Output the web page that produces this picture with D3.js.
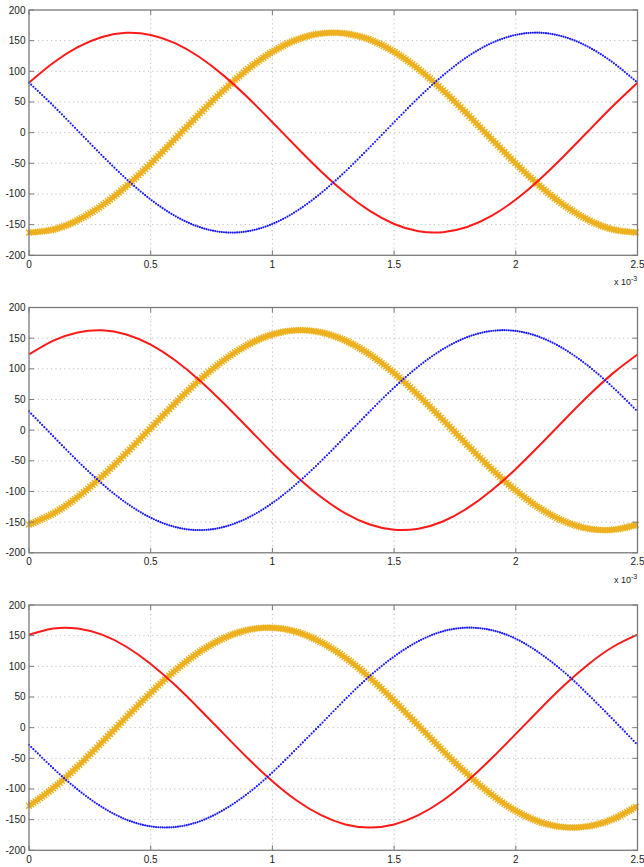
<!DOCTYPE html>
<html>
<head>
<meta charset="utf-8">
<script src="https://cdn.jsdelivr.net/npm/d3@7"></script>
<style>
  body { margin: 0; background: #fff; }
  text { font-family: "Liberation Sans", Arial, sans-serif; }
</style>
</head>
<body>
<svg id="chart" width="644" height="867"></svg>
<script>
// Time axis in milliseconds (axis shows x 10^-3 s)
const timeMs = [0, 0.1, 0.2, 0.3, 0.4, 0.5, 0.6, 0.7, 0.8, 0.9, 1.0, 1.1, 1.2,
                1.3, 1.4, 1.5, 1.6, 1.7, 1.8, 1.9, 2.0, 2.1, 2.2, 2.3, 2.4, 2.5];
const xTicks = [0, 0.5, 1, 1.5, 2, 2.5];
const xTickLabels = ["0", "0.5", "1", "1.5", "2", "2.5"];
const yTicks = [-200, -150, -100, -50, 0, 50, 100, 150, 200];

// Phase voltages, panel 1
const red1 = [81.5, 114.0, 139.4, 156.0, 162.9, 159.4, 146.0, 123.4, 93.0, 56.8, 17.0, -23.8, -63.2,
              -98.5, -127.7, -148.9, -160.7, -162.4, -153.9, -135.8, -109.1, -75.5, -37.2, 3.4, 43.8, 81.5];
const blue1 = [81.5, 43.8, 3.4, -37.2, -75.5, -109.1, -135.8, -153.9, -162.4, -160.7, -148.9, -127.7, -98.5,
               -63.2, -23.8, 17.0, 56.8, 93.0, 123.4, 146.0, 159.4, 162.9, 156.0, 139.4, 114.0, 81.5];
const orange1 = [-163.0, -157.9, -142.8, -118.8, -87.3, -50.4, -10.2, 30.5, 69.4, 103.9, 131.9, 151.6, 161.7,
                 161.7, 151.6, 131.9, 103.9, 69.4, 30.5, -10.2, -50.4, -87.3, -118.8, -142.8, -157.9, -163.0];

// Panel 2
const red2 = [123.4, 146.0, 159.4, 162.9, 156.0, 139.4, 114.0, 81.5, 43.8, 3.4, -37.2, -75.5, -109.1,
              -135.8, -153.9, -162.4, -160.7, -148.9, -127.7, -98.5, -63.2, -23.8, 17.0, 56.8, 93.0, 123.4];
const blue2 = [30.5, -10.2, -50.4, -87.3, -118.8, -142.8, -157.9, -163.0, -157.9, -142.8, -118.8, -87.3, -50.4,
               -10.2, 30.5, 69.4, 103.9, 131.9, 151.6, 161.7, 161.7, 151.6, 131.9, 103.9, 69.4, 30.5];
const orange2 = [-153.9, -135.8, -109.1, -75.5, -37.2, 3.4, 43.8, 81.5, 114.0, 139.4, 156.0, 162.9, 159.4,
                 146.0, 123.4, 93.0, 56.8, 17.0, -23.8, -63.2, -98.5, -127.7, -148.9, -160.7, -162.4, -153.9];

// Panel 3
const red3 = [151.6, 161.7, 161.7, 151.6, 131.9, 103.9, 69.4, 30.5, -10.2, -50.4, -87.3, -118.8, -142.8,
              -157.9, -163.0, -157.9, -142.8, -118.8, -87.3, -50.4, -10.2, 30.5, 69.4, 103.9, 131.9, 151.6];
const blue3 = [-28.0, -66.5, -101.0, -129.5, -150.0, -161.0, -162.0, -153.0, -134.0, -107.0, -73.0, -34.0, 6.0,
               46.5, 84.0, 116.0, 141.0, 157.0, 163.0, 159.0, 145.0, 121.0, 90.0, 53.0, 13.0, -28.0];
const orange3 = [-127.7, -98.5, -63.2, -23.8, 17.0, 56.8, 93.0, 123.4, 146.0, 159.4, 162.9, 156.0, 139.4,
                 114.0, 81.5, 43.8, 3.4, -37.2, -75.5, -109.1, -135.8, -153.9, -162.4, -160.7, -148.9, -127.7];

const panels = [
  { red: red1, blue: blue1, orange: orange1, top: 10,    exponent: true },
  { red: red2, blue: blue2, orange: orange2, top: 307.5, exponent: true },
  { red: red3, blue: blue3, orange: orange3, top: 605,   exponent: false }
];

const svg = d3.select("#chart");
const plotLeft = 29, plotRight = 637.5, plotH = 245.3;
const markerStepMs = 0.009;   // marker spacing along time
const x = d3.scaleLinear().domain([0, 2.5]).range([plotLeft, plotRight]);

// Sample a drawn path at evenly spaced x positions
function sampleByX(pathNode, xs) {
  const total = pathNode.getTotalLength();
  const pts = [];
  for (let l = 0; l <= total; l += 0.5) pts.push(pathNode.getPointAtLength(l));
  pts.push(pathNode.getPointAtLength(total));
  const out = [];
  let j = 0;
  xs.forEach(px => {
    while (j < pts.length - 2 && pts[j + 1].x < px) j++;
    const a = pts[j], b = pts[j + 1];
    const t = b.x === a.x ? 0 : Math.max(0, Math.min(1, (px - a.x) / (b.x - a.x)));
    out.push({ x: px, y: a.y + t * (b.y - a.y) });
  });
  return out;
}

const sampleTimes = d3.range(0, 2.5 + 1e-9, markerStepMs);

panels.forEach((p, i) => {
  const top = p.top, bottom = top + plotH;
  const y = d3.scaleLinear().domain([-200, 200]).range([bottom, top]);
  const g = svg.append("g");

  // dotted grid
  g.append("g").selectAll("line").data(xTicks.slice(1, -1)).join("line")
    .attr("x1", d => x(d)).attr("x2", d => x(d))
    .attr("y1", top).attr("y2", bottom)
    .attr("stroke", "#bdbdbd").attr("stroke-width", 1).attr("stroke-dasharray", "1.2,3.2");
  g.append("g").selectAll("line").data(yTicks.slice(1, -1)).join("line")
    .attr("x1", plotLeft).attr("x2", plotRight)
    .attr("y1", d => y(d)).attr("y2", d => y(d))
    .attr("stroke", "#bdbdbd").attr("stroke-width", 1).attr("stroke-dasharray", "1.2,3.2");

  const clipId = "clip" + i;
  svg.append("clipPath").attr("id", clipId).append("rect")
    .attr("x", plotLeft - 5).attr("y", top - 5)
    .attr("width", plotRight - plotLeft + 10).attr("height", plotH + 10);

  const line = d3.line().x((d, j) => x(timeMs[j])).y(d => y(d)).curve(d3.curveNatural);
  const curves = g.append("g").attr("clip-path", `url(#${clipId})`);
  const xs = sampleTimes.map(t => x(t));

  // orange phase: dense 'x' markers
  const orangePath = curves.append("path").attr("d", line(p.orange))
    .attr("fill", "none").attr("stroke", "#EDB120").attr("stroke-width", 4.5);
  const oPts = sampleByX(orangePath.node(), xs);
  const s = 2.9;
  curves.append("path")
    .attr("d", oPts.map(q => `M${q.x - s},${q.y - s}L${q.x + s},${q.y + s}M${q.x - s},${q.y + s}L${q.x + s},${q.y - s}`).join(""))
    .attr("fill", "none").attr("stroke", "#EDB120").attr("stroke-width", 1.4);

  // red phase: solid line
  curves.append("path").attr("d", line(p.red))
    .attr("fill", "none").attr("stroke", "#ff1a1a").attr("stroke-width", 2);

  // blue phase: point markers
  const bluePath = curves.append("path").attr("d", line(p.blue))
    .attr("fill", "none").attr("stroke", "none");
  const bPts = sampleByX(bluePath.node(), xs);
  curves.append("g").selectAll("circle").data(bPts).join("circle")
    .attr("cx", d => d.x).attr("cy", d => d.y).attr("r", 1.1)
    .attr("fill", "#1a1aff");

  // axes box
  g.append("rect").attr("x", plotLeft).attr("y", top)
    .attr("width", plotRight - plotLeft).attr("height", plotH)
    .attr("fill", "none").attr("stroke", "#7a7a7a").attr("stroke-width", 1.3);

  // inward ticks on all four sides
  const tl = 5;
  g.append("g").selectAll("line").data(xTicks).join("line")
    .attr("x1", d => x(d)).attr("x2", d => x(d)).attr("y1", bottom).attr("y2", bottom - tl)
    .attr("stroke", "#7a7a7a").attr("stroke-width", 1);
  g.append("g").selectAll("line").data(xTicks).join("line")
    .attr("x1", d => x(d)).attr("x2", d => x(d)).attr("y1", top).attr("y2", top + tl)
    .attr("stroke", "#7a7a7a").attr("stroke-width", 1);
  g.append("g").selectAll("line").data(yTicks).join("line")
    .attr("x1", plotLeft).attr("x2", plotLeft + tl).attr("y1", d => y(d)).attr("y2", d => y(d))
    .attr("stroke", "#7a7a7a").attr("stroke-width", 1);
  g.append("g").selectAll("line").data(yTicks).join("line")
    .attr("x1", plotRight).attr("x2", plotRight - tl).attr("y1", d => y(d)).attr("y2", d => y(d))
    .attr("stroke", "#7a7a7a").attr("stroke-width", 1);

  // tick labels
  g.append("g").selectAll("text").data(xTicks).join("text")
    .attr("x", d => x(d)).attr("y", bottom + 12.5)
    .attr("text-anchor", "middle").attr("font-size", 10).attr("fill", "#222")
    .text((d, j) => xTickLabels[j]);
  g.append("g").selectAll("text").data(yTicks).join("text")
    .attr("x", plotLeft - 3.5).attr("y", d => y(d) + 3.5)
    .attr("text-anchor", "end").attr("font-size", 10).attr("fill", "#222")
    .text(d => d);

  if (p.exponent) {
    const ex = g.append("text").attr("x", 614).attr("y", bottom + 30)
      .attr("font-size", 9).attr("fill", "#222");
    ex.append("tspan").text("x 10");
    ex.append("tspan").attr("dy", -4).attr("font-size", 7).text("-3");
  }
});
</script>
</body>
</html>
